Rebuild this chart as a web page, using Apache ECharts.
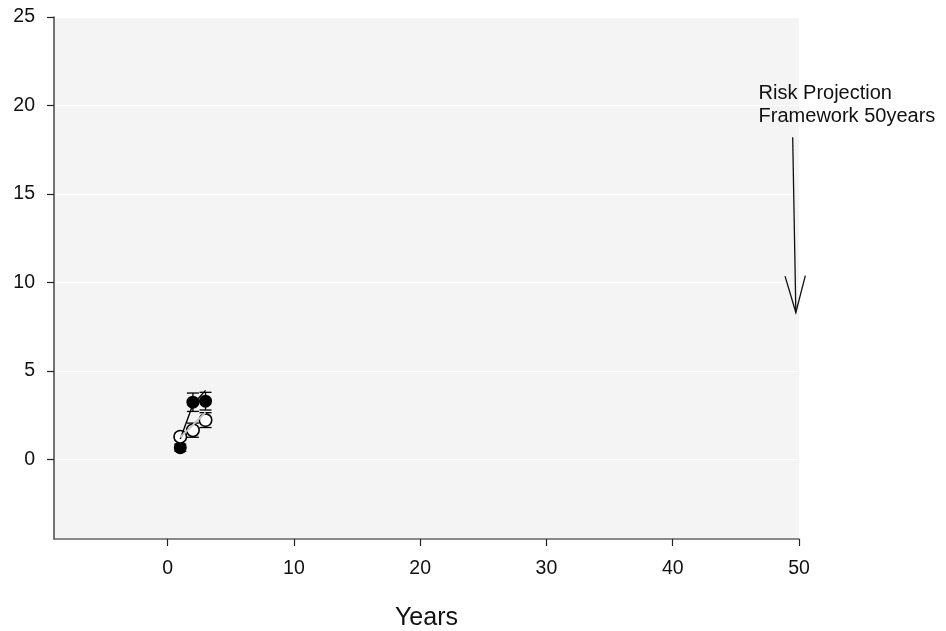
<!DOCTYPE html>
<html>
<head>
<meta charset="utf-8">
<script src="https://cdn.jsdelivr.net/npm/echarts@6/dist/echarts.min.js"></script>
<style>
html,body{margin:0;padding:0;background:#fff;}
#chart{width:946px;height:631px;}
</style>
</head>
<body>
<div id="chart"></div>
<script>
// ---- data ----
const years = [1, 2, 3];
const filledMean = [0.66, 3.23, 3.29];
const filledErr = [0.2, 0.52, 0.5];
const openMean = [1.28, 1.65, 2.22];
const openErr = [0.2, 0.4, 0.42];
const blackLineVals = [1.15, 3.1, 3.9];
const grayLineVals = [1.25, 1.95, 2.65];
const xTicks = [0, 10, 20, 30, 40, 50];
const yTicks = [0, 5, 10, 15, 20, 25];
const xRange = [-9, 50];
const yRange = [-4.5, 25];
const arrowTail = [49.5, 18.2];
const arrowTip = [49.75, 8.3];
const noteAnchor = [46.8, 20.0];
const noteText = 'Risk Projection\nFramework 50years';
const xName = 'Years';

const FONT = '"Liberation Sans", Arial, sans-serif';

const filledPts = years.map((x, i) => [x, filledMean[i]]);
const openPts = years.map((x, i) => [x, openMean[i]]);
const errData = years.map((x, i) => [x, filledMean[i] - filledErr[i], filledMean[i] + filledErr[i]])
  .concat(years.map((x, i) => [x, openMean[i] - openErr[i], openMean[i] + openErr[i]]));
const blackLine = years.map((x, i) => [x, blackLineVals[i]]);
const grayLine = years.map((x, i) => [x, grayLineVals[i]]);

const chart = echarts.init(document.getElementById('chart'), null, {renderer: 'canvas'});

const option = {
  animation: false,
  backgroundColor: '#ffffff',
  grid: {
    left: 54, right: 147, top: 17, bottom: 92,
    show: true, backgroundColor: '#f4f4f4', borderWidth: 0,
    outerBoundsMode: 'none', containLabel: false
  },
  xAxis: {
    type: 'value', min: xRange[0], max: xRange[1],
    name: xName, nameLocation: 'middle', nameGap: 67,
    nameTextStyle: {fontFamily: FONT, fontSize: 25, color: '#111'},
    axisLine: {show: true, onZero: false, lineStyle: {color: '#666', width: 1.5}},
    axisTick: {show: true, inside: false, length: 7, customValues: xTicks, lineStyle: {color: '#222', width: 1.2}},
    axisLabel: {show: true, margin: 20, customValues: xTicks, fontFamily: FONT, fontSize: 19.5, color: '#111'},
    splitLine: {show: false}
  },
  yAxis: {
    type: 'value', min: yRange[0], max: yRange[1],
    axisLine: {show: true, onZero: false, lineStyle: {color: '#444', width: 1.5}},
    axisTick: {show: true, inside: false, length: 7, customValues: yTicks, lineStyle: {color: '#222', width: 1.2}},
    axisLabel: {show: true, margin: 19, customValues: yTicks, fontFamily: FONT, fontSize: 19.5, color: '#111'},
    splitLine: {show: true, lineStyle: {color: '#ffffff', width: 1}}
  },
  series: [
    {
      type: 'custom', name: 'err', z: 1, clip: false,
      encode: {x: 0, y: [1, 2]},
      data: errData,
      renderItem: function (params, api) {
        const x = api.value(0), lo = api.value(1), hi = api.value(2);
        const p1 = api.coord([x, lo]), p2 = api.coord([x, hi]);
        const hw = 6;
        const st = {stroke: '#000', lineWidth: 1.3};
        return {type: 'group', children: [
          {type: 'line', shape: {x1: p1[0], y1: p1[1], x2: p2[0], y2: p2[1]}, style: st},
          {type: 'line', shape: {x1: p1[0] - hw, y1: p1[1], x2: p1[0] + hw, y2: p1[1]}, style: st},
          {type: 'line', shape: {x1: p2[0] - hw, y1: p2[1], x2: p2[0] + hw, y2: p2[1]}, style: st}
        ]};
      }
    },
    {
      type: 'scatter', name: 'filled', z: 2, symbol: 'circle', symbolSize: 13,
      data: filledPts, itemStyle: {color: '#000', opacity: 1}
    },
    {
      type: 'scatter', name: 'open', z: 3, symbol: 'circle', symbolSize: 12.5,
      data: openPts, itemStyle: {color: '#fff', borderColor: '#000', borderWidth: 1.6, opacity: 1}
    },
    {
      type: 'line', name: 'black', z: 4, data: blackLine, showSymbol: false, symbol: 'none',
      lineStyle: {color: '#000', width: 1.4}
    },
    {
      type: 'line', name: 'gray', z: 4, data: grayLine, showSymbol: false, symbol: 'none',
      lineStyle: {color: '#c4c4c4', width: 2}
    },
    {
      type: 'custom', name: 'note', z: 5, clip: false,
      encode: {x: [0, 2], y: [1, 3]},
      data: [[arrowTail[0], arrowTail[1], arrowTip[0], arrowTip[1]]],
      renderItem: function (params, api) {
        const t = api.coord([api.value(0), api.value(1)]);
        const h = api.coord([api.value(2), api.value(3)]);
        const ang = Math.atan2(t[1] - h[1], t[0] - h[0]);
        const L = 38, a = 15.5 * Math.PI / 180;
        const a1 = [h[0] + L * Math.cos(ang + a), h[1] + L * Math.sin(ang + a)];
        const a2 = [h[0] + L * Math.cos(ang - a), h[1] + L * Math.sin(ang - a)];
        const tp = api.coord(noteAnchor);
        const st = {stroke: '#111', lineWidth: 1.3};
        return {type: 'group', children: [
          {type: 'line', shape: {x1: t[0], y1: t[1], x2: h[0], y2: h[1]}, style: st},
          {type: 'polyline', shape: {points: [a1, h, a2]}, style: {stroke: '#111', lineWidth: 1.3, fill: null}},
          {type: 'text', x: tp[0], y: tp[1], style: {
            text: noteText, fill: '#111', fontFamily: FONT, fontSize: 20, lineHeight: 23,
            align: 'left', verticalAlign: 'middle'
          }}
        ]};
      }
    }
  ]
};
chart.setOption(option);
</script>
</body>
</html>
